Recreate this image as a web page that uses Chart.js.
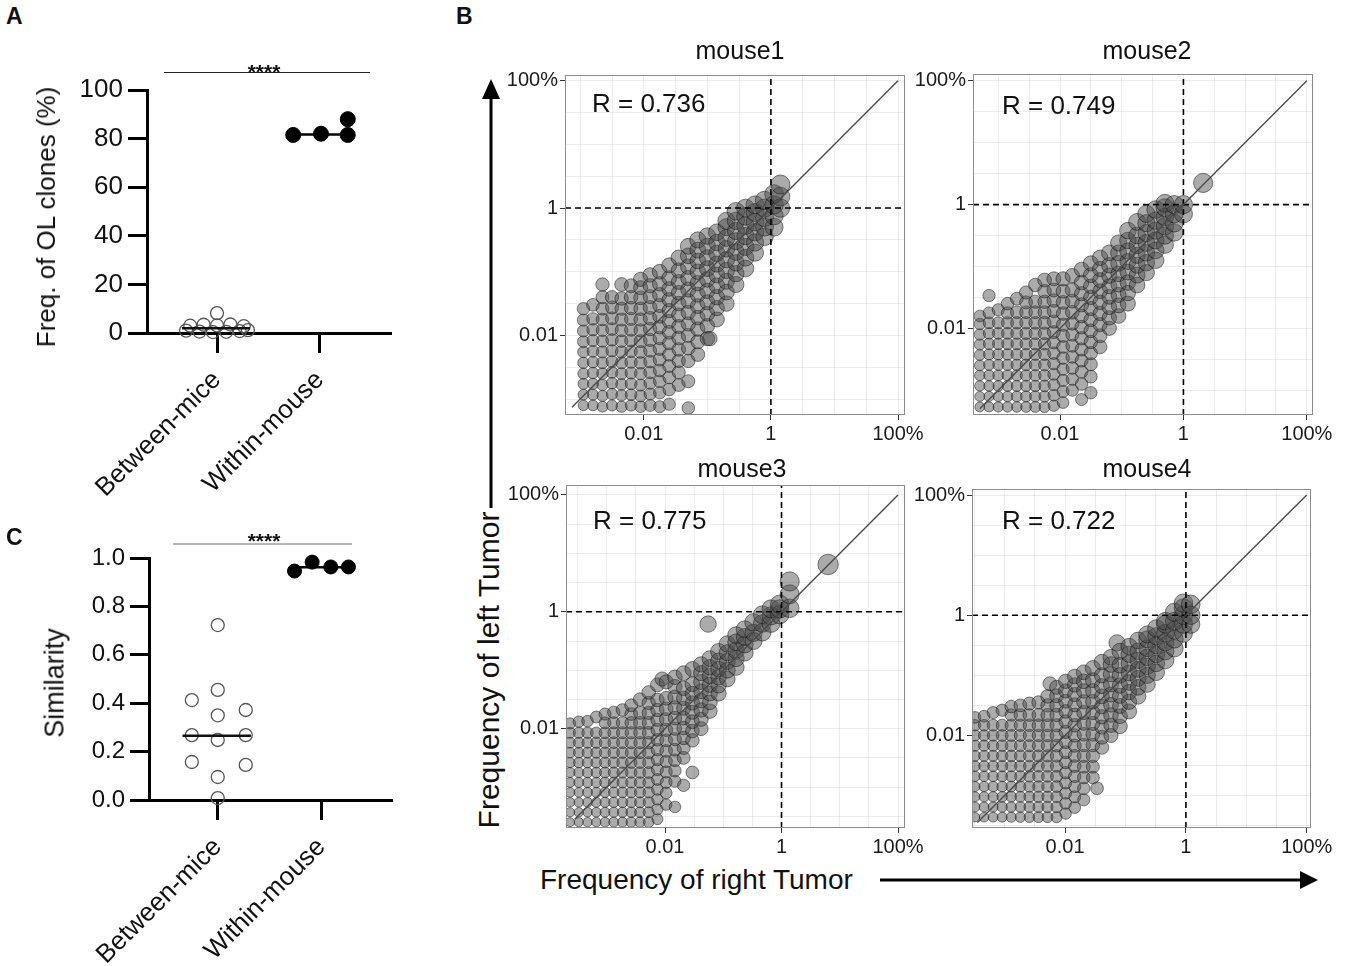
<!DOCTYPE html>
<html>
<head>
<meta charset="utf-8">
<script src="https://cdn.jsdelivr.net/npm/chart.js@4.4.1/dist/chart.umd.min.js"></script>
<style>
  body { margin: 0; background: #fff; font-family: "Liberation Sans", Arial, sans-serif; }
  #wrap { position: relative; width: 1345px; height: 966px; overflow: hidden; }
  canvas { position: absolute; }
  .t { position: absolute; white-space: nowrap; color: #111; line-height: 1; }
  .c { transform: translate(-50%, -50%); }
  .v { transform: translate(-50%, -50%) rotate(-90deg); }
  .lab { font-weight: bold; font-size: 23px; }
  .stars { font-weight: bold; font-size: 21px; }
  .ttl { font-size: 25px; }
  .r { font-size: 26px; transform: translateY(-50%); }
</style>
</head>
<body>
<div id="wrap">
  <canvas id="chartA" width="400" height="452" style="left:0;top:60px"></canvas>
  <canvas id="chartC" width="400" height="446" style="left:0;top:520px"></canvas>
  <canvas id="m1" width="430" height="384" style="left:505px;top:61px"></canvas>
  <canvas id="m2" width="430" height="385" style="left:913px;top:60px"></canvas>
  <canvas id="m3" width="429" height="387" style="left:506px;top:471px"></canvas>
  <canvas id="m4" width="429" height="383" style="left:912px;top:475px"></canvas>

  <div class="t lab" style="left:6px;top:5px">A</div>
  <div class="t lab" style="left:456px;top:5px">B</div>
  <div class="t lab" style="left:6px;top:526px">C</div>

  <div style="position:absolute;left:164px;top:72px;width:206px;height:1px;background:#222"></div>
  <div class="t c stars" style="left:264px;top:71px">****</div>
  <div class="t v" style="left:46px;top:217px;font-size:26px">Freq. of OL clones (%)</div>

  <div style="position:absolute;left:173px;top:543px;width:179px;height:2px;background:#b5b5b5"></div>
  <div class="t c stars" style="left:264px;top:540px">****</div>
  <div class="t v" style="left:55px;top:683px;font-size:27px">Similarity</div>

  <div class="t c ttl" style="left:740px;top:50px">mouse1</div>
  <div class="t c ttl" style="left:1147px;top:50px">mouse2</div>
  <div class="t c ttl" style="left:742px;top:468px">mouse3</div>
  <div class="t c ttl" style="left:1147px;top:468px">mouse4</div>

  <div class="t r" style="left:592px;top:103px">R = 0.736</div>
  <div class="t r" style="left:1002px;top:105px">R = 0.749</div>
  <div class="t r" style="left:593px;top:520px">R = 0.775</div>
  <div class="t r" style="left:1002px;top:520px">R = 0.722</div>

  <div class="t v" style="left:489px;top:670px;font-size:30px">Frequency of left Tumor</div>
  <div class="t" style="left:540px;top:880px;font-size:28px;transform:translateY(-50%)">Frequency of right Tumor</div>
  <svg style="position:absolute;left:0;top:0" width="1345" height="966">
    <line x1="491" y1="96" x2="491" y2="508" stroke="#000" stroke-width="3"/>
    <polygon points="482,99 500,99 491,79" fill="#000"/>
    <line x1="880" y1="880" x2="1302" y2="880" stroke="#000" stroke-width="3"/>
    <polygon points="1300,871 1300,889 1318,880" fill="#000"/>
  </svg>
</div>

<script>
// ---- Panel A: frequency of overlapping clones (%)
const catNames = ["Between-mice", "Within-mouse"];
const catPos = [1, 2];

const aBetweenX = [1.0, 0.74, 0.87, 1.0, 1.13, 1.26, 0.70, 0.83, 0.96, 1.09, 1.22, 1.30];
const aBetweenY = [8.2, 3.0, 3.4, 3.1, 3.5, 2.8, 1.0, 0.6, 0.4, 0.5, 0.8, 1.2];
const aWithinX = [1.74, 2.01, 2.27, 2.27];
const aWithinY = [81.5, 82.0, 81.5, 88.0];
const aMedian = [2.0, 81.7];

// ---- Panel C: similarity
const cBetweenX = [1.0, 0.75, 1.0, 1.0, 1.27, 0.75, 1.0, 1.27, 0.75, 1.27, 1.0, 1.0];
const cBetweenY = [0.723, 0.413, 0.455, 0.35, 0.372, 0.268, 0.248, 0.268, 0.157, 0.145, 0.095, 0.008];
const cWithinX = [1.74, 1.91, 2.09, 2.26];
const cWithinY = [0.946, 0.983, 0.963, 0.963];
const cMedian = [0.265, 0.962];

// ---- Panel B: clone frequencies, log10(%) ; columns of [x, [y...]]
const gridVals = [-3.5, -3, -2.5, -2, -1.5, -1, -0.5, 0, 0.5, 1, 1.5, 2];
const tickVals = [-2, 0, 2];
const tickText = ["0.01", "1", "100%"];
const refLine = 0;

const mouse1 = [
  [-2.95, [-3.1, -2.93, -2.76, -2.6, -2.43, -2.26, -2.1, -1.93, -1.76, -1.58]],
  [-2.8, [-3.1, -2.93, -2.76, -2.59, -2.42, -2.25, -2.08, -1.91, -1.74, -1.52]],
  [-2.65, [-3.12, -2.95, -2.78, -2.6, -2.43, -2.26, -2.09, -1.92, -1.75, -1.58, -1.4, -1.2]],
  [-2.5, [-3.1, -2.92, -2.75, -2.58, -2.41, -2.24, -2.07, -1.9, -1.73, -1.56, -1.4]],
  [-2.35, [-3.12, -2.94, -2.77, -2.6, -2.43, -2.26, -2.09, -1.92, -1.75, -1.58, -1.42, -1.2]],
  [-2.2, [-3.1, -2.93, -2.76, -2.59, -2.42, -2.25, -2.08, -1.91, -1.74, -1.57, -1.4, -1.22]],
  [-2.05, [-3.12, -2.95, -2.78, -2.6, -2.43, -2.26, -2.09, -1.92, -1.75, -1.58, -1.41, -1.25, -1.12]],
  [-1.9, [-3.1, -2.92, -2.75, -2.58, -2.41, -2.24, -2.07, -1.9, -1.73, -1.56, -1.39, -1.22, -1.05]],
  [-1.75, [-3.12, -2.9, -2.72, -2.55, -2.38, -2.21, -2.04, -1.87, -1.7, -1.53, -1.36, -1.19, -1.0]],
  [-1.6, [-3.08, -2.85, -2.66, -2.48, -2.3, -2.12, -1.95, -1.78, -1.61, -1.44, -1.27, -1.1, -0.9]],
  [-1.45, [-2.78, -2.58, -2.4, -2.22, -2.04, -1.86, -1.68, -1.5, -1.33, -1.16, -0.98, -0.78]],
  [-1.3, [-3.14, -2.72, -2.4, -2.2, -2.0, -1.82, -1.64, -1.46, -1.28, -1.1, -0.92, -0.75, -0.6]],
  [-1.15, [-2.3, -2.1, -1.9, -1.72, -1.54, -1.36, -1.18, -1.0, -0.83, -0.66, -0.5]],
  [-1.0, [-2.05, -1.85, -1.66, -1.48, -1.3, -1.12, -0.95, -0.78, -0.6, -0.44]],
  [-0.96, [-2.05]],
  [-0.85, [-1.75, -1.57, -1.4, -1.22, -1.05, -0.88, -0.71, -0.54, -0.38]],
  [-0.7, [-1.5, -1.32, -1.15, -0.98, -0.81, -0.64, -0.47, -0.3, -0.2]],
  [-0.55, [-1.2, -1.03, -0.86, -0.69, -0.52, -0.36, -0.2, -0.05]],
  [-0.4, [-0.95, -0.78, -0.61, -0.44, -0.28, -0.13, 0.0]],
  [-0.25, [-0.7, -0.54, -0.38, -0.22, -0.07, 0.05]],
  [-0.1, [-0.45, -0.3, -0.15, 0.0, 0.12]],
  [0.05, [-0.3, -0.12, 0.05, 0.22]],
  [0.15, [0.0, 0.18, 0.37]]
];

const mouse2 = [
  [-3.3, [-3.27, -3.1, -2.93, -2.76, -2.6, -2.43, -2.26, -2.1, -1.93, -1.8]],
  [-3.15, [-3.27, -3.1, -2.93, -2.76, -2.59, -2.42, -2.25, -2.08, -1.91, -1.75, -1.47]],
  [-3.0, [-3.27, -3.1, -2.93, -2.76, -2.59, -2.42, -2.25, -2.08, -1.91, -1.7]],
  [-2.85, [-3.27, -3.1, -2.93, -2.76, -2.59, -2.42, -2.25, -2.08, -1.91, -1.75, -1.6]],
  [-2.7, [-3.27, -3.1, -2.93, -2.76, -2.59, -2.42, -2.25, -2.08, -1.91, -1.74, -1.52]],
  [-2.55, [-3.27, -3.1, -2.93, -2.76, -2.59, -2.42, -2.25, -2.08, -1.91, -1.74, -1.58, -1.42]],
  [-2.4, [-3.27, -3.1, -2.93, -2.76, -2.59, -2.42, -2.25, -2.08, -1.91, -1.74, -1.57, -1.3]],
  [-2.25, [-3.27, -3.1, -2.93, -2.76, -2.59, -2.42, -2.25, -2.08, -1.91, -1.74, -1.57, -1.4, -1.22]],
  [-2.1, [-3.25, -3.08, -2.91, -2.74, -2.57, -2.4, -2.23, -2.06, -1.89, -1.72, -1.55, -1.38, -1.2]],
  [-1.95, [-3.2, -3.02, -2.84, -2.66, -2.48, -2.3, -2.12, -1.94, -1.76, -1.58, -1.4, -1.2]],
  [-1.8, [-3.0, -2.82, -2.64, -2.46, -2.28, -2.1, -1.92, -1.74, -1.56, -1.38, -1.15]],
  [-1.65, [-3.15, -2.9, -2.7, -2.52, -2.34, -2.16, -1.98, -1.8, -1.62, -1.44, -1.26, -1.05]],
  [-1.5, [-3.04, -2.78, -2.58, -2.4, -2.22, -2.04, -1.86, -1.68, -1.5, -1.32, -1.14, -0.95]],
  [-1.35, [-2.3, -2.12, -1.94, -1.76, -1.58, -1.4, -1.22, -1.04, -0.86]],
  [-1.2, [-2.0, -1.83, -1.66, -1.49, -1.32, -1.15, -0.98, -0.78]],
  [-1.05, [-1.8, -1.63, -1.46, -1.29, -1.12, -0.95, -0.78, -0.62]],
  [-0.9, [-1.6, -1.43, -1.26, -1.09, -0.92, -0.75, -0.58, -0.42]],
  [-0.75, [-1.3, -1.14, -0.98, -0.82, -0.66, -0.5, -0.28]],
  [-0.6, [-1.1, -0.94, -0.78, -0.62, -0.46, -0.3, -0.15]],
  [-0.45, [-0.9, -0.74, -0.58, -0.42, -0.26, -0.08]],
  [-0.3, [-0.65, -0.5, -0.35, -0.2, -0.05, 0.02]],
  [-0.15, [-0.45, -0.3, -0.15, 0.0]],
  [0.0, [-0.15, 0.0]],
  [0.32, [0.35]]
];

const mouse3 = [
  [-3.63, [-3.6, -3.43, -3.26, -3.09, -2.92, -2.75, -2.58, -2.41, -2.24, -2.07, -1.91]],
  [-3.48, [-3.6, -3.43, -3.26, -3.09, -2.92, -2.75, -2.58, -2.41, -2.24, -2.07, -1.88]],
  [-3.33, [-3.6, -3.43, -3.26, -3.09, -2.92, -2.75, -2.58, -2.41, -2.24, -2.07, -1.87]],
  [-3.18, [-3.6, -3.43, -3.26, -3.09, -2.92, -2.75, -2.58, -2.41, -2.24, -2.07, -1.8]],
  [-3.03, [-3.6, -3.43, -3.26, -3.09, -2.92, -2.75, -2.58, -2.41, -2.24, -2.07, -1.9, -1.75]],
  [-2.88, [-3.6, -3.43, -3.26, -3.09, -2.92, -2.75, -2.58, -2.41, -2.24, -2.07, -1.9, -1.72]],
  [-2.73, [-3.6, -3.43, -3.26, -3.09, -2.92, -2.75, -2.58, -2.41, -2.24, -2.07, -1.9, -1.68]],
  [-2.58, [-3.6, -3.43, -3.26, -3.09, -2.92, -2.75, -2.58, -2.41, -2.24, -2.07, -1.9, -1.75, -1.6]],
  [-2.43, [-3.6, -3.43, -3.26, -3.09, -2.92, -2.75, -2.58, -2.41, -2.24, -2.07, -1.9, -1.73, -1.5]],
  [-2.28, [-3.6, -3.43, -3.26, -3.09, -2.92, -2.75, -2.58, -2.41, -2.24, -2.07, -1.9, -1.73, -1.56, -1.38]],
  [-2.13, [-3.55, -3.38, -3.21, -3.04, -2.87, -2.7, -2.53, -2.36, -2.19, -2.02, -1.85, -1.68, -1.51, -1.25]],
  [-2.05, [-1.15]],
  [-1.98, [-3.3, -3.1, -2.92, -2.74, -2.56, -2.38, -2.2, -2.02, -1.84, -1.66, -1.48, -1.2]],
  [-1.83, [-3.34, -2.9, -2.72, -2.54, -2.36, -2.18, -2.0, -1.82, -1.64, -1.46, -1.28, -1.12]],
  [-1.68, [-2.97, -2.5, -2.33, -2.16, -1.99, -1.82, -1.65, -1.48, -1.31, -1.05]],
  [-1.53, [-2.75, -2.2, -2.04, -1.88, -1.72, -1.56, -1.4, -1.24, -0.98]],
  [-1.38, [-2.0, -1.84, -1.68, -1.52, -1.36, -1.2, -1.05, -0.9]],
  [-1.26, [-0.21]],
  [-1.23, [-1.7, -1.55, -1.4, -1.25, -1.1, -0.95, -0.8]],
  [-1.08, [-1.4, -1.26, -1.12, -0.98, -0.84, -0.68]],
  [-0.93, [-1.15, -1.0, -0.85, -0.7, -0.55]],
  [-0.78, [-0.95, -0.8, -0.66, -0.52, -0.4]],
  [-0.63, [-0.7, -0.56, -0.43, -0.3]],
  [-0.48, [-0.5, -0.36, -0.18]],
  [-0.33, [-0.35, -0.2, -0.05]],
  [-0.18, [-0.2, -0.07, 0.05]],
  [-0.03, [-0.05, 0.05, 0.13]],
  [0.14, [0.06, 0.3, 0.52]],
  [0.8, [0.81]]
];

const mouse4 = [
  [-3.49, [-3.36, -3.19, -3.02, -2.85, -2.68, -2.51, -2.34, -2.17, -2.0, -1.83, -1.7]],
  [-3.34, [-3.36, -3.19, -3.02, -2.85, -2.68, -2.51, -2.34, -2.17, -2.0, -1.83, -1.68]],
  [-3.19, [-3.36, -3.19, -3.02, -2.85, -2.68, -2.51, -2.34, -2.17, -2.0, -1.83, -1.62]],
  [-3.04, [-3.36, -3.19, -3.02, -2.85, -2.68, -2.51, -2.34, -2.17, -2.0, -1.83, -1.58]],
  [-2.89, [-3.36, -3.19, -3.02, -2.85, -2.68, -2.51, -2.34, -2.17, -2.0, -1.83, -1.66, -1.52]],
  [-2.74, [-3.36, -3.19, -3.02, -2.85, -2.68, -2.51, -2.34, -2.17, -2.0, -1.83, -1.66, -1.5]],
  [-2.59, [-3.36, -3.19, -3.02, -2.85, -2.68, -2.51, -2.34, -2.17, -2.0, -1.83, -1.66, -1.47]],
  [-2.44, [-3.36, -3.19, -3.02, -2.85, -2.68, -2.51, -2.34, -2.17, -2.0, -1.83, -1.66, -1.45]],
  [-2.29, [-3.36, -3.19, -3.02, -2.85, -2.68, -2.51, -2.34, -2.17, -2.0, -1.83, -1.66, -1.5, -1.35]],
  [-2.25, [-1.14]],
  [-2.14, [-3.36, -3.19, -3.02, -2.85, -2.68, -2.51, -2.34, -2.17, -2.0, -1.83, -1.66, -1.5, -1.34, -1.2]],
  [-1.99, [-3.3, -3.13, -2.96, -2.79, -2.62, -2.45, -2.28, -2.11, -1.94, -1.77, -1.6, -1.43, -1.26, -1.1]],
  [-1.84, [-3.2, -3.02, -2.85, -2.68, -2.51, -2.34, -2.17, -2.0, -1.83, -1.66, -1.49, -1.32, -1.16, -1.02]],
  [-1.69, [-3.07, -2.88, -2.7, -2.52, -2.34, -2.16, -1.98, -1.8, -1.62, -1.44, -1.26, -1.1, -0.95]],
  [-1.54, [-2.7, -2.52, -2.34, -2.16, -1.98, -1.8, -1.62, -1.44, -1.26, -1.08, -0.88]],
  [-1.47, [-2.88]],
  [-1.39, [-2.2, -2.03, -1.86, -1.69, -1.52, -1.35, -1.18, -1.0, -0.78]],
  [-1.24, [-2.0, -1.83, -1.66, -1.49, -1.32, -1.15, -0.98, -0.82, -0.7]],
  [-1.14, [-0.46]],
  [-1.09, [-1.85, -1.68, -1.51, -1.34, -1.17, -1.0, -0.83, -0.6]],
  [-0.94, [-1.6, -1.44, -1.28, -1.12, -0.96, -0.8, -0.65, -0.52]],
  [-0.79, [-1.35, -1.2, -1.05, -0.9, -0.75, -0.6, -0.42]],
  [-0.64, [-1.15, -1.0, -0.85, -0.7, -0.55, -0.4, -0.32]],
  [-0.49, [-0.95, -0.8, -0.65, -0.5, -0.35, -0.22]],
  [-0.34, [-0.75, -0.6, -0.45, -0.3, -0.15, -0.1]],
  [-0.19, [-0.55, -0.4, -0.25, -0.1, 0.05]],
  [-0.04, [-0.3, -0.15, 0.0, 0.12, 0.2]],
  [0.08, [-0.15, 0.0, 0.18]]
];

Chart.defaults.font.family = '"Liberation Sans", Arial, sans-serif';
Chart.defaults.color = "#111";

function pairs(xs, ys) {
  return xs.map((x, i) => ({ x: x, y: ys[i] }));
}

// GraphPad-style dot plot (panels A and C)
function dotPlot(id, cfg) {
  return new Chart(document.getElementById(id), {
    type: "scatter",
    data: {
      datasets: [
        { data: [{ x: 0.66, y: cfg.median[0] }, { x: 1.32, y: cfg.median[0] }], showLine: true, borderColor: "#111", borderWidth: 2.5, pointRadius: 0 },
        { data: [{ x: 1.74, y: cfg.median[1] }, { x: 2.27, y: cfg.median[1] }], showLine: true, borderColor: "#000", borderWidth: 2.5, pointRadius: 0 },
        { data: pairs(cfg.bx, cfg.by), pointRadius: cfg.rOpen, pointBackgroundColor: "rgba(255,255,255,0)", pointBorderColor: "#555", pointBorderWidth: 1.3 },
        { data: pairs(cfg.wx, cfg.wy), pointRadius: cfg.rFill, pointBackgroundColor: "#000", pointBorderColor: "#000", pointBorderWidth: 1 }
      ]
    },
    options: {
      responsive: false,
      animation: false,
      clip: false,
      layout: { padding: { top: cfg.padTop, right: cfg.padRight, left: 0, bottom: 0 } },
      plugins: { legend: { display: false }, tooltip: { enabled: false } },
      scales: {
        x: {
          type: "linear",
          min: cfg.xMin,
          max: cfg.xMax,
          afterBuildTicks: (s) => { s.ticks = catPos.map((v) => ({ value: v })); },
          afterFit: (s) => { s.height = cfg.xH; },
          ticks: { autoSkip: false, minRotation: 45, maxRotation: 45, padding: 12, font: { size: 26 }, callback: (v, i) => catNames[i] },
          grid: { drawOnChartArea: false, drawTicks: true, tickLength: 20, tickWidth: 3, tickColor: "#000" },
          border: { display: true, width: 3, color: "#000" }
        },
        y: {
          min: cfg.yMin,
          max: cfg.yMax,
          afterFit: (s) => { s.width = cfg.yW; },
          ticks: { stepSize: cfg.step, padding: 5, font: { size: cfg.yFont }, callback: cfg.fmt },
          grid: { drawOnChartArea: false, drawTicks: true, tickLength: 19, tickWidth: 3, tickColor: "#000" },
          border: { display: true, width: 3, color: "#000" }
        }
      }
    }
  });
}

dotPlot("chartA", {
  bx: aBetweenX, by: aBetweenY, wx: aWithinX, wy: aWithinY, median: aMedian,
  rOpen: 6.5, rFill: 7.5,
  xMin: 0.32, xMax: 2.69, yMin: 0, yMax: 100, step: 20, yFont: 26,
  fmt: (v) => String(v),
  padTop: 30, padRight: 9, xH: 179, yW: 147
});

dotPlot("chartC", {
  bx: cBetweenX, by: cBetweenY, wx: cWithinX, wy: cWithinY, median: cMedian,
  rOpen: 6.5, rFill: 7,
  xMin: 0.337, xMax: 2.68, yMin: 0, yMax: 1, step: 0.2, yFont: 24,
  fmt: (v) => v.toFixed(1),
  padTop: 38, padRight: 7, xH: 166, yW: 149
});

// panel border like ggplot theme_bw
const panelBox = {
  id: "panelBox",
  afterDatasetsDraw(chart) {
    const { ctx, chartArea: a } = chart;
    ctx.save();
    ctx.strokeStyle = "#8c8c8c";
    ctx.lineWidth = 1;
    ctx.strokeRect(a.left + 0.5, a.top + 0.5, a.width - 1, a.height - 1);
    ctx.restore();
  }
};

// point size grows with mean log frequency
function pointSize(p) {
  if (!p) return 5;
  const m = (p.x + p.y) / 2;
  return Math.max(4.5, 5 + 1.3 * (m + 3.2));
}

function logAxis(range) {
  return {
    type: "linear",
    min: range[0],
    max: range[1],
    afterBuildTicks: (s) => {
      s.ticks = gridVals.filter((v) => v >= range[0] && v <= range[1]).map((v) => ({ value: v }));
    },
    ticks: {
      autoSkip: false,
      maxRotation: 0,
      padding: 2,
      font: { size: 20 },
      color: "#1a1a1a",
      callback: (v) => {
        const i = tickVals.indexOf(v);
        return i >= 0 ? tickText[i] : "";
      }
    },
    grid: {
      color: "rgba(0,0,0,0.075)",
      lineWidth: 1,
      tickLength: 5,
      tickColor: (c) => (c.tick && tickVals.includes(c.tick.value) ? "#333" : "rgba(0,0,0,0)")
    },
    border: { display: false }
  };
}

function mouseChart(id, cols, xr, yr, diag) {
  const pts = [];
  cols.forEach((c) => c[1].forEach((y) => pts.push({ x: c[0], y: y })));
  const xAxis = logAxis(xr);
  xAxis.afterFit = (s) => { s.height = 30; };
  const yAxis = logAxis(yr);
  yAxis.afterFit = (s) => { s.width = 60; };
  return new Chart(document.getElementById(id), {
    type: "scatter",
    data: {
      datasets: [
        { data: [{ x: diag[0], y: diag[0] }, { x: diag[1], y: diag[1] }], showLine: true, borderColor: "#4a4a4a", borderWidth: 1.4, pointRadius: 0 },
        { data: [{ x: refLine, y: yr[0] }, { x: refLine, y: yr[1] }], showLine: true, borderColor: "#000", borderWidth: 1.6, borderDash: [6, 4], pointRadius: 0 },
        { data: [{ x: xr[0], y: refLine }, { x: xr[1], y: refLine }], showLine: true, borderColor: "#000", borderWidth: 1.6, borderDash: [6, 4], pointRadius: 0 },
        {
          data: pts,
          pointRadius: (c) => pointSize(c.raw),
          pointBackgroundColor: "rgba(72,72,72,0.46)",
          pointBorderColor: "rgba(20,20,20,0.65)",
          pointBorderWidth: 0.8
        }
      ]
    },
    options: {
      responsive: false,
      animation: false,
      clip: 0,
      layout: { padding: { top: 12, right: 30, left: 0, bottom: 0 } },
      plugins: { legend: { display: false }, tooltip: { enabled: false } },
      scales: { x: xAxis, y: yAxis }
    },
    plugins: [panelBox]
  });
}

mouseChart("m1", mouse1, [-3.24, 2.11], [-3.25, 2.09], [-3.13, 2]);
mouseChart("m2", mouse2, [-3.41, 2.1], [-3.4, 2.11], [-3.3, 2]);
mouseChart("m3", mouse3, [-3.7, 2.12], [-3.7, 2.17], [-3.55, 2]);
mouseChart("m4", mouse4, [-3.54, 2.07], [-3.54, 2.1], [-3.45, 2]);
</script>
</body>
</html>
